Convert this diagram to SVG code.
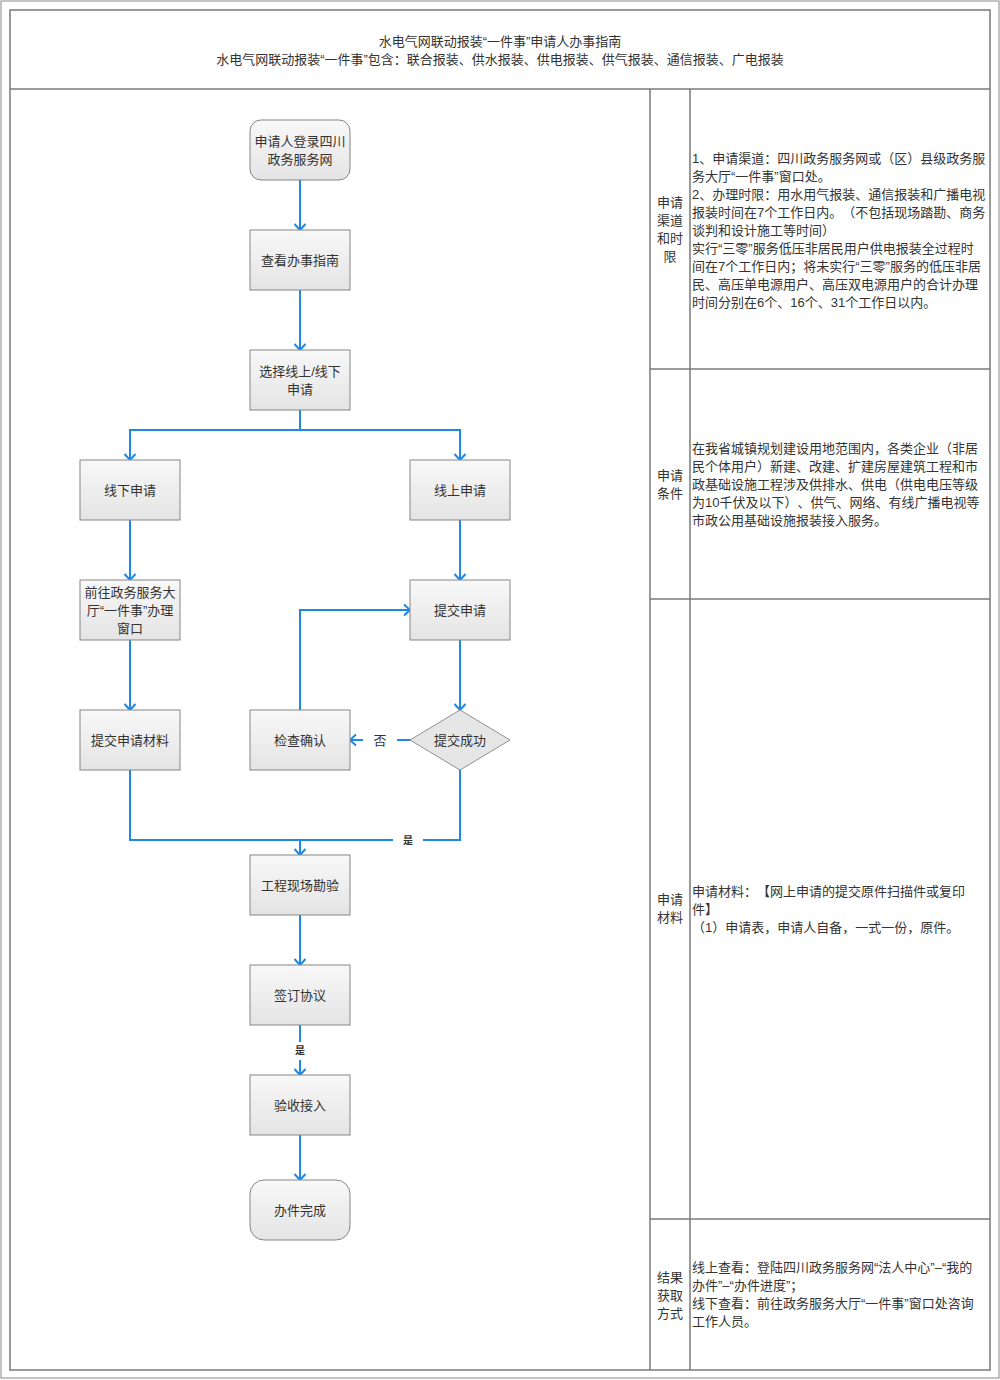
<svg xmlns="http://www.w3.org/2000/svg" width="1000" height="1380" viewBox="0 0 1000 1380">
<defs>
<linearGradient id="g" x1="0" y1="0" x2="0" y2="1">
<stop offset="0" stop-color="#f8f8f8"/>
<stop offset="1" stop-color="#e4e4e4"/>
</linearGradient>
<marker id="ar" markerUnits="userSpaceOnUse" markerWidth="14" markerHeight="14" viewBox="-8 -7 10 14" refX="0" refY="0" orient="auto">
<path d="M-6,-5.5 L0,0 L-6,5.5" fill="none" stroke="#1e88e5" stroke-width="2"/>
</marker>
<style>
.t{font-family:"Liberation Sans","Noto Sans CJK SC",sans-serif;font-size:13px;fill:#333;text-spacing-trim:space-all}
.c{text-anchor:middle}
.n{fill:url(#g);stroke:#858585;stroke-width:1}
.d{fill:#e6e6e6;stroke:#909090;stroke-width:1}
.l{fill:none;stroke:#1e88e5;stroke-width:2}
.a{marker-end:url(#ar)}
.g{fill:none;stroke:#7a7a7a;stroke-width:1.5}
.s{font-family:"Liberation Sans","Noto Sans CJK SC",sans-serif;font-size:10px;font-weight:bold;fill:#333;text-anchor:middle}
</style>
</defs>
<rect x="0" y="0" width="1000" height="1380" fill="#ffffff"/>
<g id="frame">
<rect x="1" y="1" width="998" height="1377" fill="none" stroke="#9a9a9a" stroke-width="1.2"/>
<rect x="10" y="10" width="980" height="1360" class="g"/>
<line x1="10" y1="89" x2="990" y2="89" class="g"/>
<line x1="650" y1="89" x2="650" y2="1370" class="g"/>
<line x1="690" y1="89" x2="690" y2="1370" class="g"/>
<line x1="650" y1="369" x2="990" y2="369" class="g"/>
<line x1="650" y1="599" x2="990" y2="599" class="g"/>
<line x1="650" y1="1219" x2="990" y2="1219" class="g"/>
</g>
<g id="title">
<text class="t c" x="500" y="46">水电气网联动报装“一件事”申请人办事指南</text>
<text class="t c" x="500" y="64">水电气网联动报装“一件事”包含：联合报装、供水报装、供电报装、供气报装、通信报装、广电报装</text>
</g>
<g id="connectors">
<line x1="300" y1="180" x2="300" y2="230" class="l a"/>
<line x1="300" y1="290" x2="300" y2="350" class="l a"/>
<polyline points="300,410 300,430 130,430 130,460" class="l a"/>
<polyline points="300,430 460,430 460,460" class="l a"/>
<line x1="130" y1="520" x2="130" y2="580" class="l a"/>
<line x1="460" y1="520" x2="460" y2="580" class="l a"/>
<line x1="130" y1="640" x2="130" y2="710" class="l a"/>
<line x1="460" y1="640" x2="460" y2="710" class="l a"/>
<line x1="410" y1="740" x2="397" y2="740" class="l"/>
<line x1="363" y1="740" x2="350" y2="740" class="l a"/>
<text class="t c" x="380" y="745">否</text>
<polyline points="300,710 300,610 410,610" class="l a"/>
<polyline points="130,770 130,840 300,840 300,855" class="l a"/>
<polyline points="460,770 460,840 423,840" class="l"/>
<line x1="393" y1="840" x2="300" y2="840" class="l"/>
<text class="s" x="408" y="844">是</text>
<line x1="300" y1="915" x2="300" y2="965" class="l a"/>
<line x1="300" y1="1025" x2="300" y2="1042" class="l"/>
<line x1="300" y1="1060" x2="300" y2="1075" class="l a"/>
<text class="s" x="300" y="1054">是</text>
<line x1="300" y1="1135" x2="300" y2="1180" class="l a"/>
</g>
<g id="n1"><rect x="250" y="120" width="100" height="60" rx="11" class="n"/><text class="t c" x="300" y="146">申请人登录四川</text><text class="t c" x="300" y="164">政务服务网</text></g>
<g id="n2"><rect x="250" y="230" width="100" height="60" class="n"/><text class="t c" x="300" y="265">查看办事指南</text></g>
<g id="n3"><rect x="250" y="350" width="100" height="60" class="n"/><text class="t c" x="300" y="376">选择线上/线下</text><text class="t c" x="300" y="394">申请</text></g>
<g id="n4"><rect x="80" y="460" width="100" height="60" class="n"/><text class="t c" x="130" y="495">线下申请</text></g>
<g id="n5"><rect x="410" y="460" width="100" height="60" class="n"/><text class="t c" x="460" y="495">线上申请</text></g>
<g id="n6"><rect x="80" y="580" width="100" height="60" class="n"/><text class="t c" x="130" y="597">前往政务服务大</text><text class="t c" x="130" y="615">厅“一件事”办理</text><text class="t c" x="130" y="633">窗口</text></g>
<g id="n7"><rect x="410" y="580" width="100" height="60" class="n"/><text class="t c" x="460" y="615">提交申请</text></g>
<g id="n8"><rect x="80" y="710" width="100" height="60" class="n"/><text class="t c" x="130" y="745">提交申请材料</text></g>
<g id="n9"><rect x="250" y="710" width="100" height="60" class="n"/><text class="t c" x="300" y="745">检查确认</text></g>
<g id="n10"><polygon points="460,710 510,740 460,770 410,740" class="d"/><text class="t c" x="460" y="745">提交成功</text></g>
<g id="n11"><rect x="250" y="855" width="100" height="60" class="n"/><text class="t c" x="300" y="890">工程现场勘验</text></g>
<g id="n12"><rect x="250" y="965" width="100" height="60" class="n"/><text class="t c" x="300" y="1000">签订协议</text></g>
<g id="n13"><rect x="250" y="1075" width="100" height="60" class="n"/><text class="t c" x="300" y="1110">验收接入</text></g>
<g id="n14"><rect x="250" y="1180" width="100" height="60" rx="14" class="n"/><text class="t c" x="300" y="1215">办件完成</text></g>
<g id="sec1">
<text class="t c" x="670" y="207">申请</text><text class="t c" x="670" y="225">渠道</text><text class="t c" x="670" y="243">和时</text><text class="t c" x="670" y="261">限</text>
<text class="t" x="692" y="163">1、申请渠道：四川政务服务网或（区）县级政务服</text>
<text class="t" x="692" y="181">务大厅“一件事”窗口处。</text>
<text class="t" x="692" y="199">2、办理时限：用水用气报装、通信报装和广播电视</text>
<text class="t" x="692" y="217">报装时间在7个工作日内。（不包括现场踏勘、商务</text>
<text class="t" x="692" y="235">谈判和设计施工等时间）</text>
<text class="t" x="692" y="253">实行“三零”服务低压非居民用户供电报装全过程时</text>
<text class="t" x="692" y="271">间在7个工作日内；将未实行“三零”服务的低压非居</text>
<text class="t" x="692" y="289">民、高压单电源用户、高压双电源用户的合计办理</text>
<text class="t" x="692" y="307">时间分别在6个、16个、31个工作日以内。</text>
</g>
<g id="sec2">
<text class="t c" x="670" y="480">申请</text><text class="t c" x="670" y="498">条件</text>
<text class="t" x="692" y="453">在我省城镇规划建设用地范围内，各类企业（非居</text>
<text class="t" x="692" y="471">民个体用户）新建、改建、扩建房屋建筑工程和市</text>
<text class="t" x="692" y="489">政基础设施工程涉及供排水、供电（供电电压等级</text>
<text class="t" x="692" y="507">为10千伏及以下）、供气、网络、有线广播电视等</text>
<text class="t" x="692" y="525">市政公用基础设施报装接入服务。</text>
</g>
<g id="sec3">
<text class="t c" x="670" y="904">申请</text><text class="t c" x="670" y="922">材料</text>
<text class="t" x="692" y="896">申请材料：【网上申请的提交原件扫描件或复印</text>
<text class="t" x="692" y="914">件】</text>
<text class="t" x="692" y="932">（1）申请表，申请人自备，一式一份，原件。</text>
</g>
<g id="sec4">
<text class="t c" x="670" y="1282">结果</text><text class="t c" x="670" y="1300">获取</text><text class="t c" x="670" y="1318">方式</text>
<text class="t" x="692" y="1272">线上查看：登陆四川政务服务网“法人中心”–“我的</text>
<text class="t" x="692" y="1290">办件”–“办件进度”；</text>
<text class="t" x="692" y="1308">线下查看：前往政务服务大厅“一件事”窗口处咨询</text>
<text class="t" x="692" y="1326">工作人员。</text>
</g>
</svg>
